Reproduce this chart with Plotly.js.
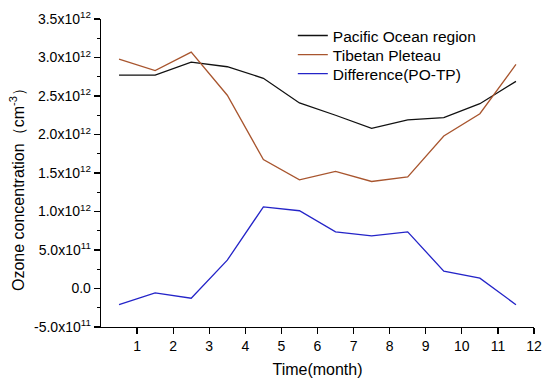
<!DOCTYPE html>
<html>
<head>
<meta charset="utf-8">
<script src="https://cdn.plot.ly/plotly-3.0.1.min.js"></script>
<style>html,body{margin:0;padding:0;background:#fff;}#chart{width:550px;height:382px;}</style>
</head>
<body>
<div id="chart"></div>
<script>
const months = [0.5, 1.5, 2.5, 3.5, 4.5, 5.5, 6.5, 7.5, 8.5, 9.5, 10.5, 11.5];
const pacific = [2.77e12, 2.77e12, 2.94e12, 2.88e12, 2.73e12, 2.41e12, 2.25e12, 2.08e12, 2.19e12, 2.22e12, 2.40e12, 2.69e12];
const tibet = [2.98e12, 2.83e12, 3.07e12, 2.51e12, 1.675e12, 1.41e12, 1.52e12, 1.39e12, 1.45e12, 1.98e12, 2.27e12, 2.91e12];
const diff = [-2.1e11, -5.6e10, -1.26e11, 3.68e11, 1.06e12, 1.01e12, 7.36e11, 6.84e11, 7.36e11, 2.25e11, 1.34e11, -2.1e11];
const yTickVals = [-5e11, 0, 5e11, 1e12, 1.5e12, 2e12, 2.5e12, 3e12, 3.5e12];
const yTickText = ["-5.0x10<sup>11</sup>", "0.0", "5.0x10<sup>11</sup>", "1.0x10<sup>12</sup>", "1.5x10<sup>12</sup>", "2.0x10<sup>12</sup>", "2.5x10<sup>12</sup>", "3.0x10<sup>12</sup>", "3.5x10<sup>12</sup>"];
const xTickVals = [1, 2, 3, 4, 5, 6, 7, 8, 9, 10, 11, 12];
const seriesNames = ["Pacific Ocean region", "Tibetan Pleteau", "Difference(PO-TP)"];
const yTitle = 'Ozone concentration（cm<sup>-3</sup>）';
const xTitle = 'Time(month)';

const traces = [
  {x: months, y: pacific, name: seriesNames[0], legend: 'legend', mode: 'lines', line: {color: '#111111', width: 1.3}},
  {x: months, y: tibet, name: seriesNames[1], legend: 'legend2', mode: 'lines', line: {color: '#A8552E', width: 1.3}},
  {x: months, y: diff, name: seriesNames[2], legend: 'legend3', mode: 'lines', line: {color: '#2424C8', width: 1.3}}
];
const legendBase = {x: 0.443, xanchor: 'left', yanchor: 'middle', bgcolor: 'rgba(0,0,0,0)', font: {size: 15.5}};
const layout = {
  width: 550, height: 382,
  margin: {l: 101, r: 16, t: 19, b: 55},
  paper_bgcolor: '#fff', plot_bgcolor: '#fff',
  font: {family: 'Liberation Sans, Arial, sans-serif', color: '#000', size: 14},
  showlegend: true,
  legend: Object.assign({}, legendBase, {y: 0.945}),
  legend2: Object.assign({}, legendBase, {y: 0.883}),
  legend3: Object.assign({}, legendBase, {y: 0.821}),
  xaxis: {
    range: [0, 12], tickmode: 'array', tickvals: xTickVals, ticktext: xTickVals.map(String),
    showline: true, linecolor: '#000', linewidth: 1.3, ticks: 'outside', ticklen: 6, tickcolor: '#000', tickwidth: 1.2,
    showgrid: false, zeroline: false, tickfont: {size: 14},
    title: {text: xTitle, font: {size: 16}, standoff: 10}
  },
  yaxis: {
    range: [-5e11, 3.5e12], tickmode: 'array', tickvals: yTickVals, ticktext: yTickText,
    showline: true, linecolor: '#000', linewidth: 1.3, ticks: 'outside', ticklen: 6, tickcolor: '#000', tickwidth: 1.2,
    minor: {tickmode: 'linear', tick0: -5e11, dtick: 2.5e11, ticklen: 3, tickcolor: '#000', tickwidth: 1.2, ticks: 'outside'},
    showgrid: false, zeroline: false, tickfont: {size: 14}
  },
  annotations: [{
    text: yTitle, xref: 'paper', yref: 'paper', x: -0.194, y: 0.461,
    xanchor: 'center', yanchor: 'middle', textangle: -90, showarrow: false,
    font: {size: 16}
  }]
};
Plotly.newPlot('chart', traces, layout, {displayModeBar: false, staticPlot: true});
</script>
</body>
</html>
